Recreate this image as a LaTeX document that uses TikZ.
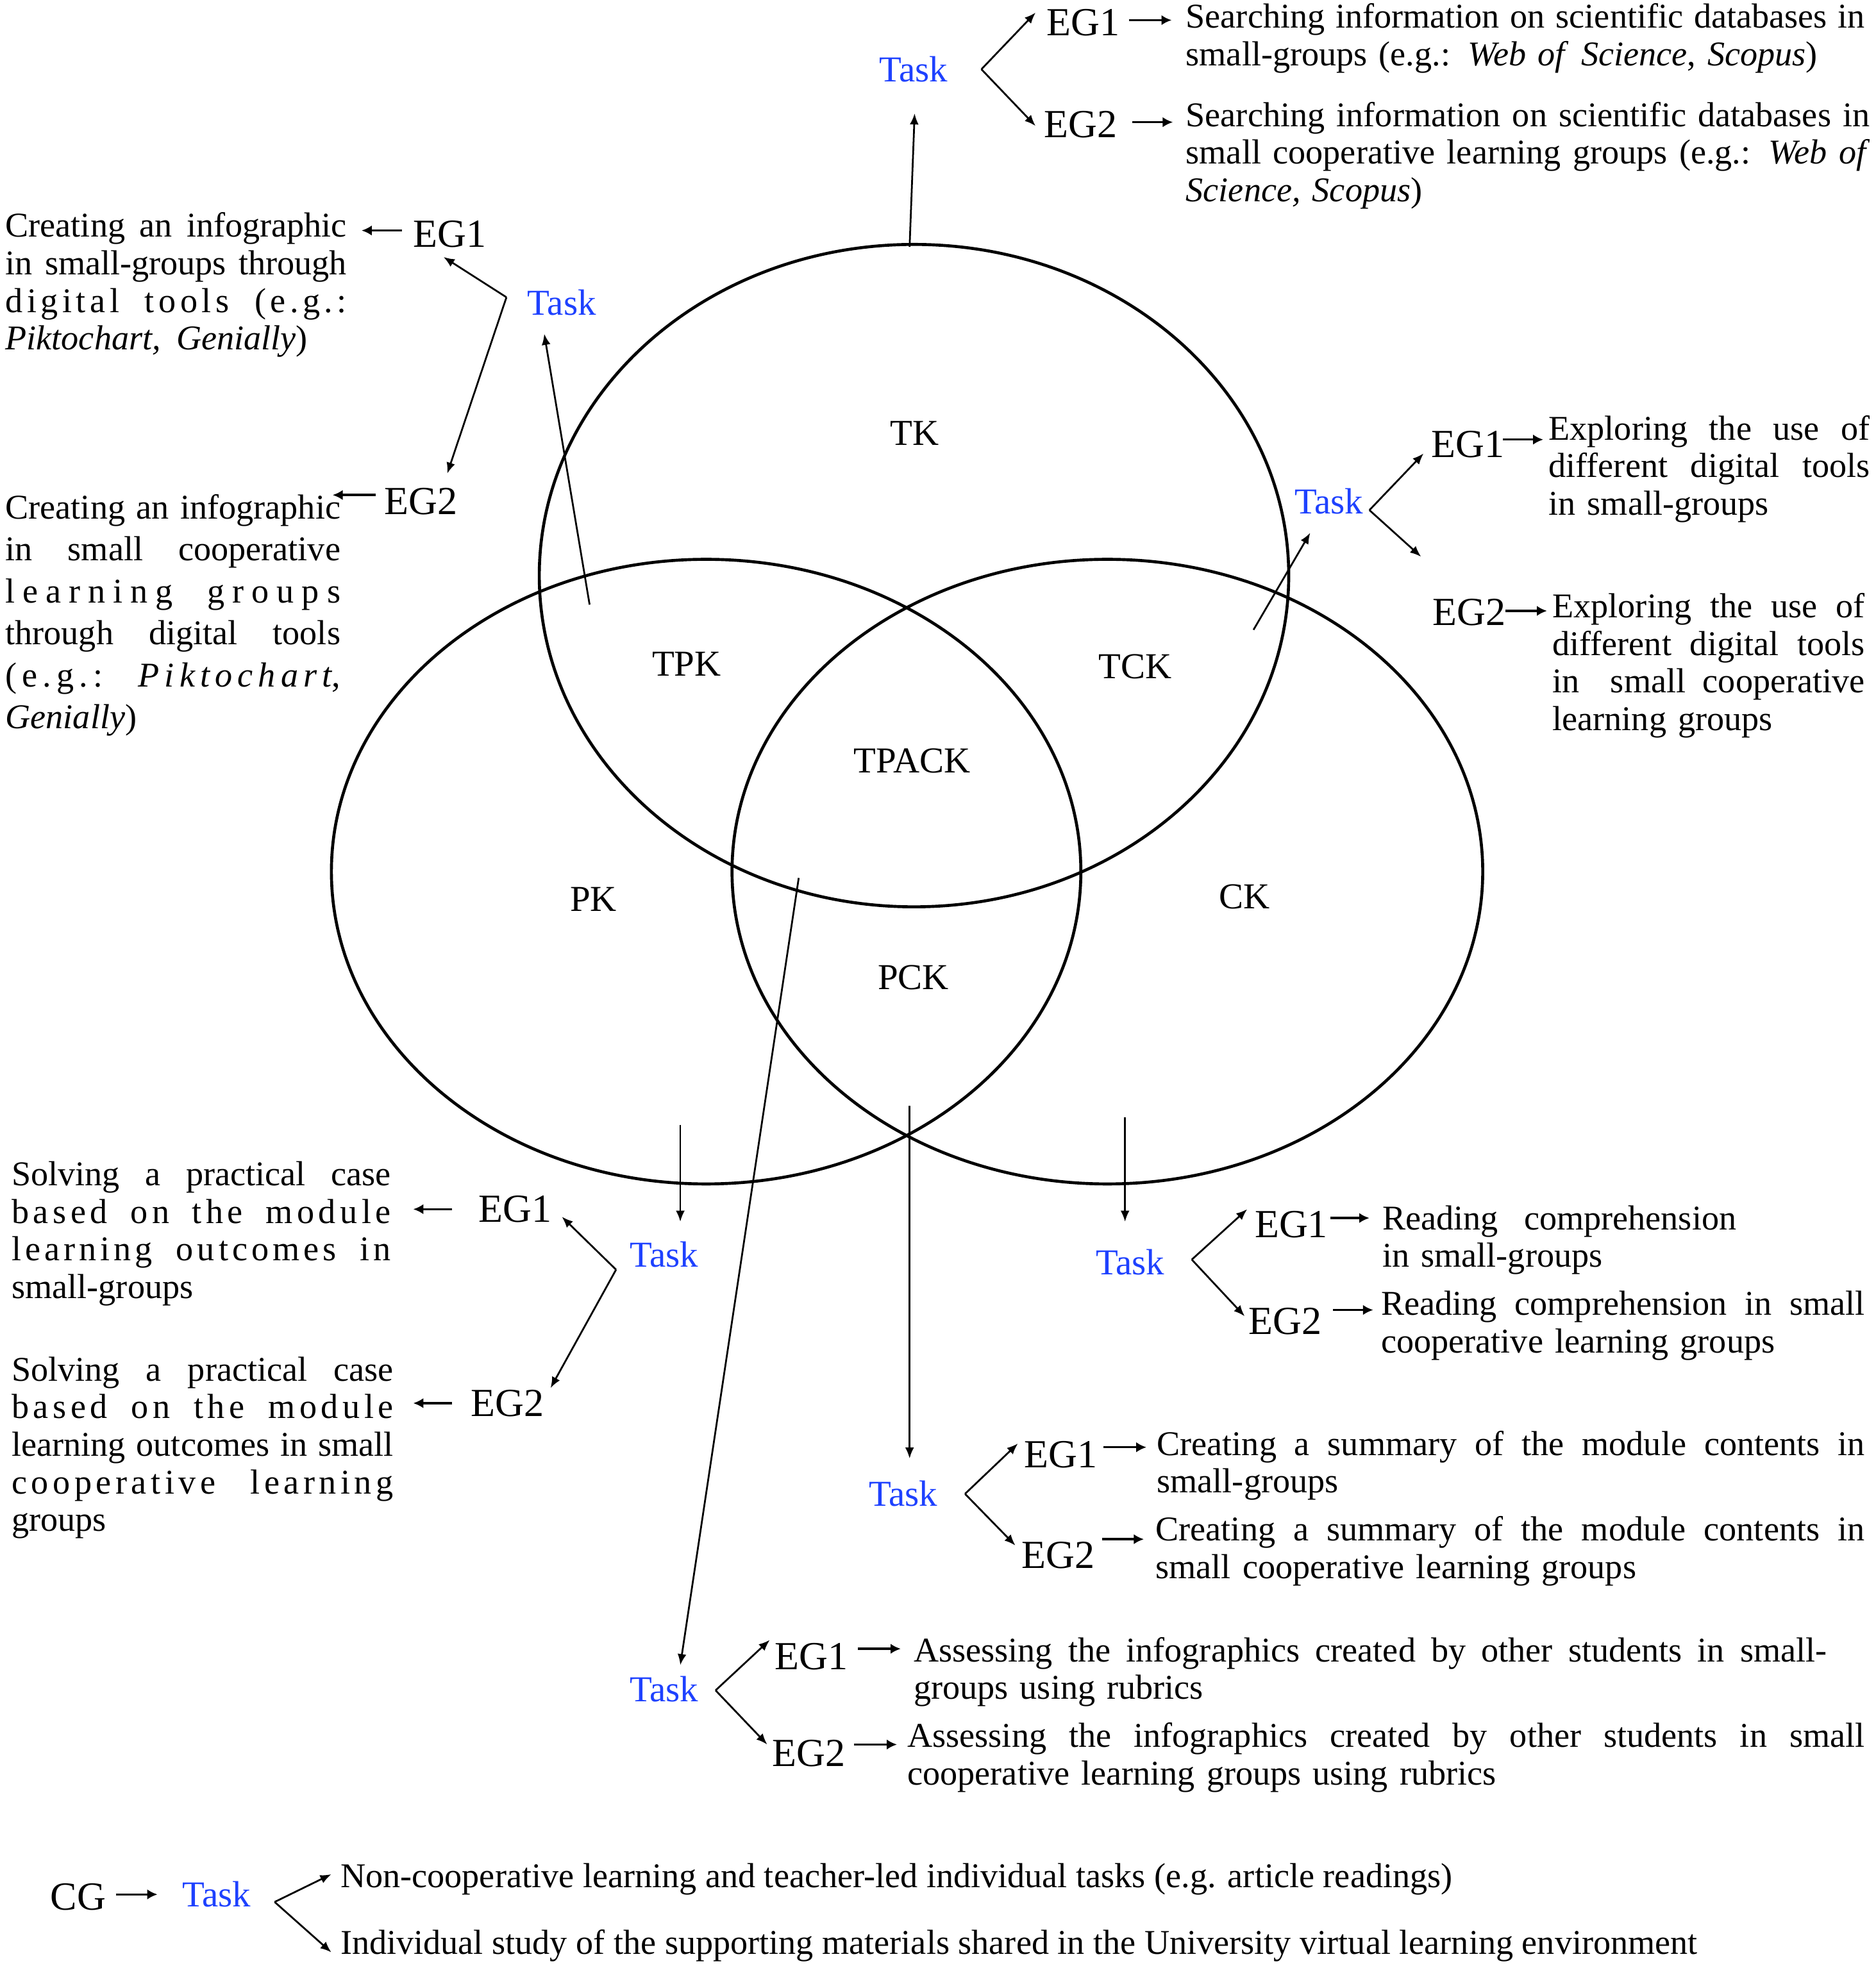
\documentclass[tikz,border=0pt]{standalone}
\usepackage{fontspec}
\setmainfont{Liberation Serif}
\usetikzlibrary{arrows.meta}
\definecolor{taskblue}{RGB}{30,65,255}
\newcommand{\JL}[1]{\makebox[\hsize][s]{\spaceskip=0pt\xspaceskip=0pt #1}}
\newcommand{\LS}[1]{\addfontfeatures{LetterSpace=#1}}
\begin{document}
\begin{tikzpicture}[x=0.02cm,y=-0.02cm,
  ell/.style={line width=1.35pt},
  conn/.style={line width=0.8pt,-{Latex[length=5pt,width=4pt]}},
  egarr/.style={line width=1pt,-{Latex[length=4.6pt,width=4.6pt]}},
  reg/.style={font=\fontsize{16.5}{18}\selectfont,inner sep=0pt},
  task/.style={font=\fontsize{16.5}{18}\selectfont,text=taskblue,inner sep=0pt},
  eg/.style={font=\fontsize{18}{20}\selectfont,inner sep=0pt},
  body/.style={font=\fontsize{15.7}{17}\selectfont,inner sep=0pt,anchor=north west,align=left},
  bodywide/.style={font=\fontsize{15.7}{19}\selectfont,inner sep=0pt,anchor=north west,align=left},
  bodyline/.style={font=\fontsize{15.7}{17}\selectfont,inner sep=0pt,anchor=north west},
]
\useasboundingbox (0,0) rectangle (1489,1568);

% ---------- ellipses ----------
\draw[ell] (725.5,457) ellipse [x radius=5.95cm, y radius=5.26cm];
\draw[ell] (560.5,692) ellipse [x radius=5.95cm, y radius=4.96cm];
\draw[ell] (879,692) ellipse [x radius=5.96cm, y radius=4.96cm];

\node[reg] (lTK) at (726,344) {TK};
\node[reg] (lTPK) at (545,527) {TPK};
\node[reg] (lTCK) at (901,529) {TCK};
\node[reg] (lTPACK) at (724,604) {TPACK};
\node[reg] (lPK) at (471,714) {PK};
\node[reg] (lCK) at (988,712) {CK};
\node[reg] (lPCK) at (725,776) {PCK};

% ---------- group A (top) ----------
\node[task] (tA) at (725,55) {Task};
\node[eg] (e1A) at (860,18) {EG1};
\node[eg] (e2A) at (858,99) {EG2};
\coordinate (sA) at (722,196);
\coordinate (fA) at (779,55);
\draw[conn] (sA) -- ([shift={(1,35)}]tA.center);
\draw[conn] (fA) -- ([shift={(-38,-8)}]e1A.center);
\draw[conn] (fA) -- ([shift={(-36,1)}]e2A.center);
\draw[egarr] ([shift={(36,-2)}]e1A.center) -- ([shift={(70,-2)}]e1A.center);
\draw[egarr] ([shift={(41,-2)}]e2A.center) -- ([shift={(73,-2)}]e2A.center);
\node[body,text width=10.78cm] (xA1) at (941,1) {\strut\JL{Searching information on scientific databases in}\\small-groups (e.g.: \textit{Web of}\hspace{0.35em}\textit{Science}, \textit{Scopus})};
\node[body,text width=10.86cm] (xA2) at (941,79) {\strut\JL{Searching information on scientific databases in}\\\JL{small cooperative learning groups (e.g.: \textit{Web of}}\\\textit{Science, Scopus})};

% ---------- group B (upper left) ----------
\node[task] (tB) at (446,240) {Task};
\node[eg] (e1B) at (357,186) {EG1};
\node[eg] (e2B) at (334,398) {EG2};
\coordinate (sB) at (468,480);
\coordinate (fB) at (402,236);
\draw[conn] (sB) -- ([shift={(-14,25)}]tB.center);
\draw[conn] (fB) -- ([shift={(-5,18)}]e1B.center);
\draw[conn] (fB) -- ([shift={(21,-22)}]e2B.center);
\draw[egarr] ([shift={(-38,-3)}]e1B.center) -- ([shift={(-70,-3)}]e1B.center);
\draw[egarr] ([shift={(-36,-5)}]e2B.center) -- ([shift={(-70,-5)}]e2B.center);
\node[body,text width=5.42cm] (xB1) at (4,167) {\strut\JL{Creating an infographic}\\\JL{in small-groups through}\\\JL{\LS{12}digital tools (e.g.:}\\\textit{Piktochart,}\hspace{0.45em}\textit{Genially})};
\node[bodywide,text width=5.32cm] (xB2) at (4,388) {\strut\JL{Creating an infographic}\\\JL{in small cooperative}\\\JL{\LS{22}learning groups}\\\JL{through digital tools}\\\JL{\LS{15}(e.g.: \textit{Piktochart},}\\\textit{Genially})};

% ---------- group C (upper right) ----------
\node[task] (tC) at (1055,398) {Task};
\node[eg] (e1C) at (1165,353) {EG1};
\node[eg] (e2C) at (1166,486) {EG2};
\coordinate (sC) at (995,500);
\coordinate (fC) at (1087,405);
\draw[conn] (sC) -- ([shift={(-15,25)}]tC.center);
\draw[conn] (fC) -- ([shift={(-35,7)}]e1C.center);
\draw[conn] (fC) -- ([shift={(-38,-44)}]e2C.center);
\draw[egarr] ([shift={(28,-4)}]e1C.center) -- ([shift={(60,-4)}]e1C.center);
\draw[egarr] ([shift={(29,-1)}]e2C.center) -- ([shift={(62,-1)}]e2C.center);
\node[body,text width=5.1cm] (xC1) at (1229,328) {\strut\JL{Exploring the use of}\\\JL{different digital tools}\\in small-groups};
\node[body,text width=4.96cm] (xC2) at (1232,469) {\strut\JL{Exploring the use of}\\\JL{different digital tools}\\\JL{in\hspace{0.4em} small cooperative}\\learning groups};

% ---------- group D (lower left) ----------
\node[task] (tD) at (527,996) {Task};
\node[eg] (e1D) at (409,960) {EG1};
\node[eg] (e2D) at (403,1114) {EG2};
\coordinate (sD) at (540,893);
\coordinate (fD) at (489,1008);
\draw[conn] (sD) -- ([shift={(13,-26)}]tD.center);
\draw[conn] (fD) -- ([shift={(37,6)}]e1D.center);
\draw[conn] (fD) -- ([shift={(34,-12)}]e2D.center);
\draw[egarr] ([shift={(-50,0)}]e1D.center) -- ([shift={(-81,0)}]e1D.center);
\draw[egarr] ([shift={(-44,0)}]e2D.center) -- ([shift={(-75,0)}]e2D.center);
\node[body,text width=6.02cm] (xD1) at (9,920) {\strut\JL{Solving a practical case}\\\JL{\LS{12}based on the module}\\\JL{\LS{11}learning outcomes in}\\small-groups};
\node[body,text width=6.06cm] (xD2) at (9,1075) {\strut\JL{Solving a practical case}\\\JL{\LS{12}based on the module}\\\JL{learning outcomes in small}\\\JL{\LS{12}cooperative learning}\\groups};

% ---------- group E (lower right) ----------
\node[task] (tE) at (897,1002) {Task};
\node[eg] (e1E) at (1025,972) {EG1};
\node[eg] (e2E) at (1020,1049) {EG2};
\coordinate (sE) at (893,887);
\coordinate (fE) at (946,1000);
\draw[conn] (sE) -- ([shift={(-4,-32)}]tE.center);
\draw[conn] (fE) -- ([shift={(-35,-12)}]e1E.center);
\draw[conn] (fE) -- ([shift={(-32,-4)}]e2E.center);
\draw[egarr] ([shift={(31,-5)}]e1E.center) -- ([shift={(62,-5)}]e1E.center);
\draw[egarr] ([shift={(38,-9)}]e2E.center) -- ([shift={(70,-9)}]e2E.center);
\node[body,text width=5.62cm] (xE1) at (1097,955) {\strut\JL{Reading comprehension}\\in small-groups};
\node[body,text width=7.68cm] (xE2) at (1096,1023) {\strut\JL{Reading comprehension in small}\\cooperative learning groups};

% ---------- group F (bottom centre) ----------
\node[task] (tF) at (717,1186) {Task};
\node[eg] (e1F) at (842,1155) {EG1};
\node[eg] (e2F) at (840,1235) {EG2};
\coordinate (sF) at (722,878);
\coordinate (fF) at (766,1186);
\draw[conn] (sF) -- ([shift={(5,-28)}]tF.center);
\draw[conn] (fF) -- ([shift={(-34,-9)}]e1F.center);
\draw[conn] (fF) -- ([shift={(-34,-8)}]e2F.center);
\draw[egarr] ([shift={(34,-6)}]e1F.center) -- ([shift={(68,-6)}]e1F.center);
\draw[egarr] ([shift={(35,-13)}]e2F.center) -- ([shift={(68,-13)}]e2F.center);
\node[body,text width=11.24cm] (xF1) at (918,1134) {\strut\JL{Creating a summary of the module contents in}\\small-groups};
\node[body,text width=11.26cm] (xF2) at (917,1202) {\strut\JL{Creating a summary of the module contents in}\\small cooperative learning groups};

% ---------- group G (long arrow) ----------
\node[task] (tG) at (527,1341) {Task};
\node[eg] (e1G) at (644,1315) {EG1};
\node[eg] (e2G) at (642,1392) {EG2};
\coordinate (sG) at (634,697);
\coordinate (fG) at (568,1342);
\draw[conn] (sG) -- ([shift={(13,-19)}]tG.center);
\draw[conn] (fG) -- ([shift={(-33,-13)}]e1G.center);
\draw[conn] (fG) -- ([shift={(-33,-7)}]e2G.center);
\draw[egarr] ([shift={(37,-6)}]e1G.center) -- ([shift={(71,-6)}]e1G.center);
\draw[egarr] ([shift={(36,-7)}]e2G.center) -- ([shift={(70,-7)}]e2G.center);
\node[body,text width=14.5cm] (xG1) at (725,1298) {\strut\JL{Assessing the infographics created by other students in small-}\\groups using rubrics};
\node[body,text width=15.2cm] (xG2) at (720,1366) {\strut\JL{Assessing the infographics created by other students in small}\\cooperative learning groups using rubrics};

% ---------- control group ----------
\node[eg] (cg) at (62,1506) {CG};
\node[task] (tH) at (172,1504) {Task};
\coordinate (fH) at (218,1510);
\draw[egarr] ([shift={(30,-2)}]cg.center) -- ([shift={(63,-2)}]cg.center);
\node[bodyline] (xH1) at (270,1477) {\strut Non-cooperative learning and teacher-led individual tasks (e.g. article readings)};
\node[bodyline] (xH2) at (270,1530) {\strut Individual study of the supporting materials shared in the University virtual learning environment};
\draw[conn] (fH) -- ([shift={(-7,11)}]xH1.north west);
\draw[conn] (fH) -- ([shift={(-7,20)}]xH2.north west);
\end{tikzpicture}
\end{document}
